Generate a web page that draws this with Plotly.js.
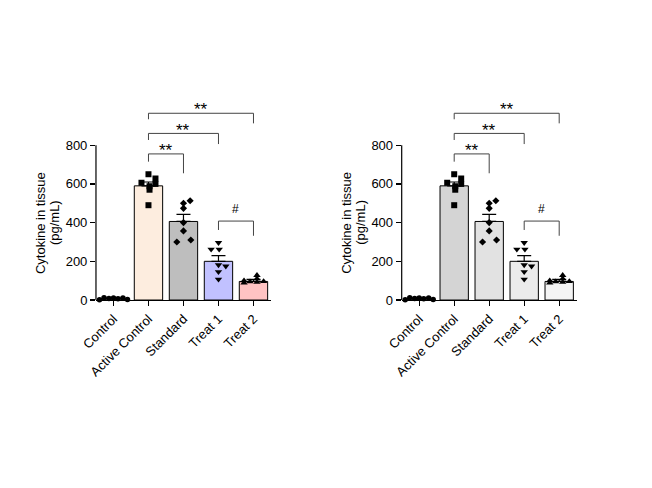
<!DOCTYPE html>
<html><head><meta charset="utf-8">
<script src="https://cdn.plot.ly/plotly-3.0.1.min.js"></script>
<style>html,body{margin:0;padding:0;background:#fff}</style></head>
<body><div id="chart" style="width:652px;height:488px"></div>
<script>
// ---- data ----
var categories = ['Control', 'Active Control', 'Standard', 'Treat 1', 'Treat 2'];
var means = [8, 590, 406, 200, 96];
var sem = [3, 20, 37, 29, 11];

var ptsControl  = [2, 12, 8, 10, 6, 11, 3];
var jitControl  = [-0.4, -0.27, -0.13, 0, 0.13, 0.27, 0.4];
var ptsActive   = [650, 628, 606, 600, 588, 570, 490];
var jitActive   = [0, 0.2, -0.2, 0.2, 0.03, 0.03, 0];
var ptsStandard = [513, 500, 474, 400, 357, 300, 310];
var jitStandard = [0.19, 0, 0, 0, 0, -0.19, 0.21];
var ptsTreat1   = [296, 262, 262, 181, 175, 146, 107];
var jitTreat1   = [0, -0.21, 0.02, 0, 0.21, 0, 0];
var ptsTreat2   = [128, 110, 88, 95, 92, 96, 100];
var jitTreat2   = [0.1, 0.1, -0.27, -0.1, 0.1, 0.29, -0.27];

var bracketFrom  = [1, 1, 1, 3];
var bracketTo    = [2, 3, 4, 4];
var bracketY     = [755, 861, 965, 408];
var bracketLeft  = [715, 827, 934, 362];
var bracketRight = [655, 806, 913, 332];
var bracketText  = ['**', '**', '**', '#'];
var bracketTextY = [800, 904, 1008, 469];

var yTicks = [0, 200, 400, 600, 800];

// ---- styles ----
var colorsA = ['#FFFFFF', '#FDEDDF', '#BEBEBE', '#C1C1FF', '#FFC3C3'];
var colorsB = ['#FFFFFF', '#D4D4D4', '#E2E2E2', '#EBEBEB', '#F4F4F4'];
var symbols = ['circle', 'square', 'diamond', 'triangle-down', 'triangle-up'];
var msizes = [5.5, 6, 5.5, 6.5, 6.5];
var groups = [ptsControl, ptsActive, ptsStandard, ptsTreat1, ptsTreat2];
var jits = [jitControl, jitActive, jitStandard, jitTreat1, jitTreat2];
var FONT = 'Liberation Sans, Arial, sans-serif';

var traces = [];
var shapes = [];
var annotations = [];

function panel(xa, ya, colors) {
  var xs = xa, ys = ya;
  traces.push({
    type: 'bar', x: categories.map(function (c, i) { return i; }), y: means,
    xaxis: xs, yaxis: ys, width: 0.81,
    marker: { color: colors, line: { color: '#000', width: 1 } },
    error_y: { type: 'data', array: sem, arrayminus: sem.map(function () { return 0; }),
      symmetric: false, color: '#000', thickness: 1.2, width: 7 },
    hoverinfo: 'skip', showlegend: false
  });
  groups.forEach(function (g, i) {
    traces.push({
      type: 'scatter', mode: 'markers', xaxis: xs, yaxis: ys,
      x: g.map(function (v, k) { return i + jits[i][k]; }), y: g,
      marker: { symbol: symbols[i], size: msizes[i], color: '#000' },
      cliponaxis: false, showlegend: false, hoverinfo: 'skip'
    });
  });
  // y axis line up to the last tick
  shapes.push({ type: 'line', xref: xs + ' domain', yref: ys, x0: 0, x1: 0,
    y0: yTicks[0], y1: yTicks[yTicks.length - 1], line: { color: '#000', width: 1.2 } });
  bracketFrom.forEach(function (f, i) {
    var t = bracketTo[i];
    shapes.push({ type: 'path', xref: xs, yref: ys,
      path: 'M' + f + ',' + bracketLeft[i] + ' L' + f + ',' + bracketY[i] +
            ' L' + t + ',' + bracketY[i] + ' L' + t + ',' + bracketRight[i],
      line: { color: '#444', width: 1 } });
    var star = bracketText[i] === '**';
    annotations.push({ xref: xs, yref: ys, x: (f + t) / 2, y: bracketTextY[i],
      text: bracketText[i], showarrow: false, xanchor: 'center', yanchor: 'middle',
      yshift: star ? -5 : 0,
      font: { family: FONT, size: star ? 17 : 12, color: '#000' } });
  });
  annotations.push({ xref: xs + ' domain', yref: ys, x: 0, y: 400, xshift: -55.5,
    xanchor: 'center', yanchor: 'middle',
    text: 'Cytokine in tissue', textangle: -90, showarrow: false,
    font: { family: FONT, size: 13, color: '#000' } });
  annotations.push({ xref: xs + ' domain', yref: ys, x: 0, y: 400, xshift: -41.5,
    xanchor: 'center', yanchor: 'middle',
    text: '(pg/mL)', textangle: -90, showarrow: false,
    font: { family: FONT, size: 13, color: '#000' } });
}
panel('x', 'y', colorsA);
panel('x2', 'y2', colorsB);

function xaxis(domain, anchor) {
  return { domain: domain, anchor: anchor, range: [-0.5, 4.5],
    tickvals: [0, 1, 2, 3, 4], ticktext: categories, tickangle: -45,
    ticks: 'outside', ticklen: 5, tickwidth: 1.2, tickcolor: '#000',
    showline: true, linecolor: '#000', linewidth: 1.2,
    showgrid: false, zeroline: false, fixedrange: true,
    tickfont: { family: FONT, size: 13, color: '#000' } };
}
function yaxis(anchor) {
  return { domain: [0.3852, 0.7976], anchor: anchor, range: [0, 1040],
    tickvals: yTicks, ticks: 'outside', ticklen: 5, tickwidth: 1.2, tickcolor: '#000',
    showline: false, showgrid: false, zeroline: false, fixedrange: true,
    tickfont: { family: FONT, size: 13, color: '#000' } };
}

var layout = {
  width: 652, height: 488, margin: { l: 0, r: 0, t: 0, b: 0 },
  paper_bgcolor: '#fff', plot_bgcolor: 'rgba(0,0,0,0)',
  xaxis: xaxis([0.1472, 0.4156], 'y'),
  yaxis: yaxis('x'),
  xaxis2: xaxis([0.6161, 0.8845], 'y2'),
  yaxis2: yaxis('x2'),
  shapes: shapes, annotations: annotations,
  bargap: 0.19, showlegend: false
};
Plotly.newPlot('chart', traces, layout, { staticPlot: true });
</script></body></html>
